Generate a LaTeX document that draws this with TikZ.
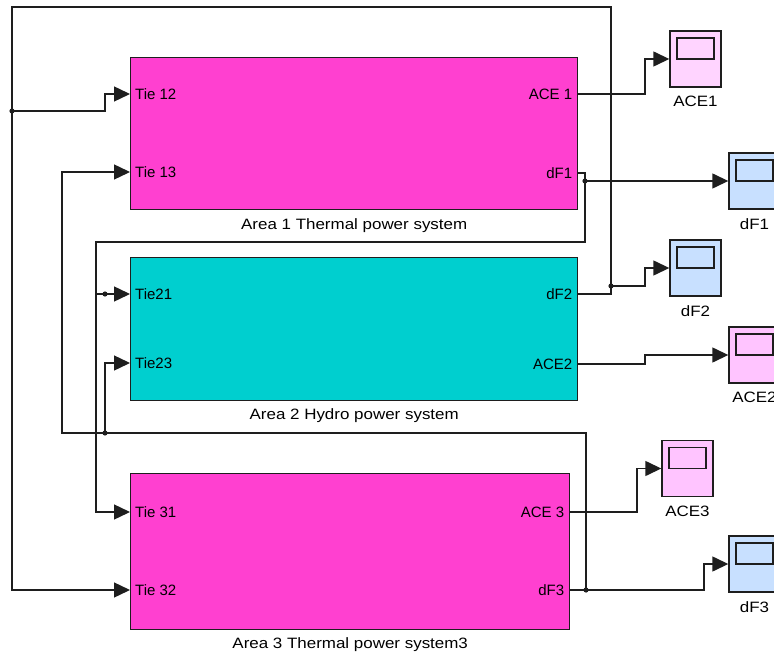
\documentclass[tikz,border=0pt]{standalone}
\usepackage{fontspec}
\setmainfont{Liberation Sans}
\newfontfamily\widefont{Liberation Sans}[FakeStretch=1.13]
\usetikzlibrary{arrows.meta}
\definecolor{magblk}{HTML}{FF40D0}
\definecolor{cyanblk}{HTML}{00CFCF}
\definecolor{scpinkA}{HTML}{FFD4FF}
\definecolor{scpinkB}{HTML}{FFC4FF}
\definecolor{scblue}{HTML}{C8E0FF}
\definecolor{wirec}{HTML}{1E1E1E}
\begin{document}
\begin{tikzpicture}[x=1pt,y=-1pt,
  wire/.style={draw=wirec, line width=1.4pt},
  sig/.style={wire, -{Triangle[length=16pt,width=15pt]}},
  blk/.style={draw=wirec, line width=1.4pt, anchor=north west, inner sep=0pt},
  portl/.style={inner sep=0pt, anchor=west, font=\fontsize{15pt}{18pt}\selectfont},
  portr/.style={inner sep=0pt, anchor=east, font=\fontsize{15pt}{18pt}\selectfont},
  blabel/.style={inner sep=0pt, font=\widefont\fontsize{15pt}{18pt}\selectfont},
  scopebox/.style={draw=wirec, line width=1.4pt, minimum width=51pt, minimum height=56pt, inner sep=0pt,
    path picture={\draw[wirec, line width=1.4pt] ([xshift=7pt,yshift=-7pt]path picture bounding box.north west) rectangle ([xshift=-7pt,yshift=-28pt]path picture bounding box.north east);}},
  jdot/.style={fill=wirec}
]
\fill[white] (0,0) rectangle (774,655);
\useasboundingbox (0,0) rectangle (774,655);

% blocks
\node[blk, fill=magblk, minimum width=447pt, minimum height=152pt] (A1) at (130,57) {};
\node[blk, fill=cyanblk, minimum width=447pt, minimum height=143pt] (A2) at (130,257) {};
\node[blk, fill=magblk, minimum width=439pt, minimum height=156pt] (A3) at (130,473) {};

\node[blabel] (L1) at ([yshift=-15pt]A1.south) {Area 1 Thermal power system};
\node[blabel] (L2) at ([yshift=-14pt]A2.south) {Area 2 Hydro power system};
\node[blabel] (L3) at ([yshift=-14pt]A3.south) {Area 3 Thermal power system3};

% ports
\coordinate (t12) at (A1.west |- 0,94);
\coordinate (t13) at (A1.west |- 0,172);
\coordinate (ace1) at (A1.east |- 0,94);
\coordinate (df1) at (A1.east |- 0,173);
\coordinate (t21) at (A2.west |- 0,294);
\coordinate (t23) at (A2.west |- 0,363);
\coordinate (df2) at (A2.east |- 0,294);
\coordinate (ace2) at (A2.east |- 0,364);
\coordinate (t31) at (A3.west |- 0,512);
\coordinate (t32) at (A3.west |- 0,590);
\coordinate (ace3) at (A3.east |- 0,512);
\coordinate (df3) at (A3.east |- 0,590);

\node[portl] (pt12) at ([xshift=5pt]t12) {Tie 12};
\node[portl] (pt13) at ([xshift=5pt]t13) {Tie 13};
\node[portr] (pace1) at ([xshift=-6pt]ace1) {ACE 1};
\node[portr] (pdf1) at ([xshift=-6pt]df1) {dF1};
\node[portl] (pt21) at ([xshift=5pt]t21) {Tie21};
\node[portl] (pt23) at ([xshift=5pt]t23) {Tie23};
\node[portr] (pdf2) at ([xshift=-6pt]df2) {dF2};
\node[portr] (pace2) at ([xshift=-6pt]ace2) {ACE2};
\node[portl] (pt31) at ([xshift=5pt]t31) {Tie 31};
\node[portl] (pt32) at ([xshift=5pt]t32) {Tie 32};
\node[portr] (pace3) at ([xshift=-6pt]ace3) {ACE 3};
\node[portr] (pdf3) at ([xshift=-6pt]df3) {dF3};

% scopes
\node[scopebox, fill=scpinkA] (sACE1) at (695.5,59) {};
\node[scopebox, fill=scblue] (sdF1) at (754.5,181) {};
\node[scopebox, fill=scblue] (sdF2) at (695.5,268) {};
\node[scopebox, fill=scpinkB] (sACE2) at (754.5,355) {};
\node[scopebox, fill=scpinkB] (sACE3) at (687.5,468.5) {};
\node[scopebox, fill=scblue] (sdF3) at (754.5,564) {};

\node[blabel] (lACE1) at ([yshift=-14pt]sACE1.south) {ACE1};
\node[blabel] (ldF1) at ([yshift=-14pt]sdF1.south) {dF1};
\node[blabel] (ldF2) at ([yshift=-14pt]sdF2.south) {dF2};
\node[blabel] (lACE2) at ([yshift=-14pt]sACE2.south) {ACE2};
\node[blabel] (lACE3) at ([yshift=-14pt]sACE3.south) {ACE3};
\node[blabel] (ldF3) at ([yshift=-14pt]sdF3.south) {dF3};

% junctions
\coordinate (j1) at (585,181);
\coordinate (k1) at (96,294);
\coordinate (k1d) at (105,294);
\coordinate (j3) at (611,286);
\coordinate (j4) at (12,111);
\coordinate (j5) at (586,590);
\coordinate (j6) at (105,433);

% ACE outputs
\draw[sig] (ace1) -- (645,94) |- (sACE1.west);
\draw[sig] (ace2) -- (645,364) |- (sACE2.west);
\draw[sig] (ace3) -- (637,512) |- (sACE3.west);

% dF1 -> scope, Tie21, Tie31
\draw[wire] (df1) -| (j1);
\draw[sig] (j1) -- (sdF1.west);
\draw[wire] (j1) |- (96,242) -- (k1);
\draw[sig] (k1) -- (t21);
\draw[sig] (k1) |- (t31);

% dF2 -> scope, Tie12, Tie32
\draw[wire] (df2) -| (j3);
\draw[sig] (j3) -- (645,286) |- (sdF2.west);
\draw[wire] (j3) -- (611,7) -- (12,7) -- (j4);
\draw[sig] (j4) -| (105,94) -- (t12);
\draw[sig] (j4) |- (t32);

% dF3 -> scope, Tie13, Tie23
\draw[wire] (df3) -- (j5);
\draw[sig] (j5) -- (704,590) |- (sdF3.west);
\draw[wire] (j5) -- (586,433) -- (j6);
\draw[sig] (j6) |- (t23);
\draw[sig] (j6) -- (62,433) |- (t13);

% junction dots
\fill[jdot] (j1) circle (2.6pt);
\fill[jdot] (k1d) circle (2.6pt);
\fill[jdot] (j3) circle (2.6pt);
\fill[jdot] (j4) circle (2.6pt);
\fill[jdot] (j5) circle (2.6pt);
\fill[jdot] (j6) circle (2.6pt);
\end{tikzpicture}
\end{document}
